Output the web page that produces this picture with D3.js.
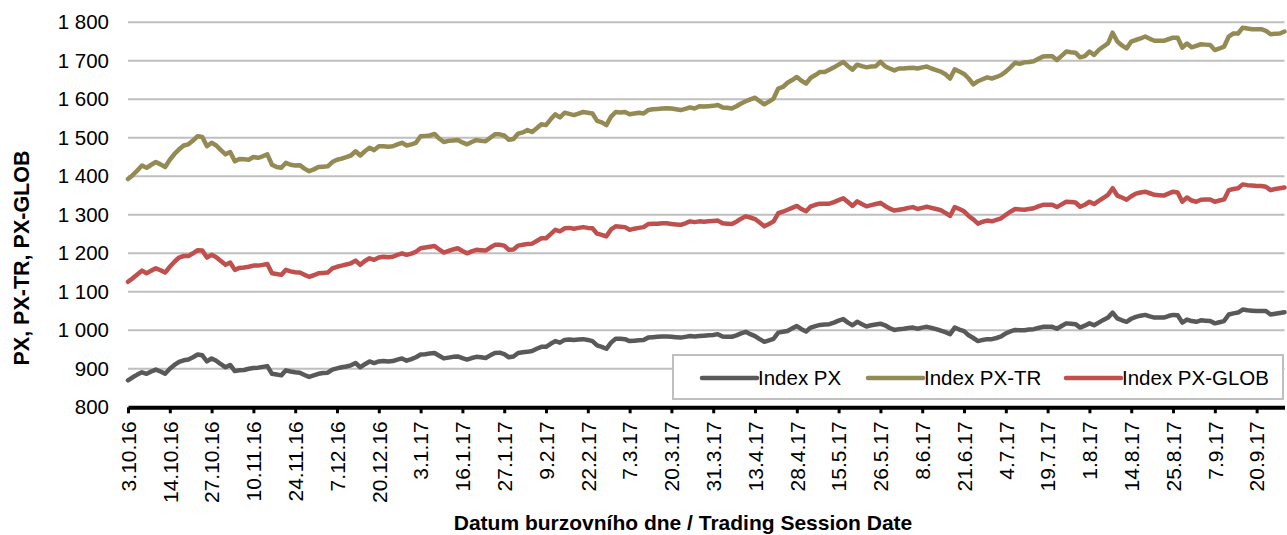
<!DOCTYPE html>
<html>
<head>
<meta charset="utf-8">
<script src="https://cdn.jsdelivr.net/npm/d3@7"></script>
<style>
  body { margin: 0; background: #fff; }
  svg { display: block; font-family: 'Liberation Sans', Arial, sans-serif; }
</style>
</head>
<body>
<svg id="chart" width="1287" height="535"></svg>
<script>
// daily closes, 3.10.2016 - 29.9.2017 (one value per trading session)
var pxValues = [
  870, 878, 885, 891, 887, 893, 898, 893, 887, 900, 910, 918, 922, 924, 930, 937, 935, 919, 927, 921,
  912, 904, 910, 894, 896, 897, 900, 902, 903, 905, 907, 887, 885, 883, 896, 893, 891, 890, 884, 879,
  883, 887, 889, 890, 898, 901, 904, 906, 909, 915, 904, 912, 919, 915, 919, 920, 919, 920, 924, 927,
  921, 925, 930, 937, 938, 940, 941, 934, 927, 929, 931, 932, 928, 924, 928, 931, 930, 928, 935, 941,
  942, 938, 930, 932, 941, 943, 944, 946, 952, 957, 957, 965, 972, 968, 975, 976, 975, 976, 977, 975,
  972, 961, 957, 952, 968, 978, 978, 977, 972, 973, 974, 975, 981, 982, 983, 984, 984, 983, 982, 981,
  983, 985, 984, 985, 986, 987, 988, 990, 984, 983, 983, 987, 992, 996, 990, 985, 977, 970, 974, 978,
  994, 996, 998, 1005, 1011, 1003, 997, 1007, 1011, 1014, 1015, 1016, 1020, 1025, 1029, 1020, 1013, 1022, 1016, 1010,
  1013, 1015, 1017, 1013, 1006, 1001, 1003, 1004, 1006, 1007, 1004, 1007, 1009, 1006, 1003, 999, 995, 990, 1007, 1002,
  998, 987, 980, 972, 975, 977, 977, 980, 984, 992, 997, 1001, 1000, 1000, 1002, 1003, 1006, 1009, 1009, 1009,
  1004, 1011, 1018, 1017, 1016, 1007, 1012, 1018, 1013, 1020, 1027, 1033, 1046, 1031, 1026, 1022, 1030, 1035, 1038, 1040,
  1036, 1033, 1033, 1033, 1037, 1040, 1039, 1020, 1028, 1024, 1022, 1026, 1025, 1024, 1018, 1021, 1024, 1041, 1044, 1046,
  1054, 1052, 1051, 1050, 1050, 1050, 1041, 1043, 1045, 1047
];

var trValues = [
  1393, 1403, 1415, 1428, 1422, 1430, 1437, 1431, 1424, 1443, 1458, 1470, 1480, 1483, 1493, 1504, 1502, 1478, 1487, 1480,
  1468, 1457, 1463, 1439, 1445, 1444, 1443, 1450, 1448, 1452, 1457, 1430, 1424, 1422, 1435, 1430, 1428, 1429, 1420, 1413,
  1418, 1424, 1425, 1426, 1437, 1443, 1446, 1450, 1454, 1465, 1454, 1465, 1474, 1468, 1478, 1478, 1477, 1478, 1483, 1487,
  1480, 1483, 1487, 1504, 1505, 1506, 1510, 1498, 1489, 1492, 1493, 1494, 1488, 1483, 1489, 1494, 1492, 1491, 1500, 1509,
  1509, 1506, 1495, 1497, 1511, 1514, 1520, 1515, 1525, 1535, 1533, 1548, 1561, 1553, 1565, 1562, 1559, 1563, 1567, 1565,
  1563, 1544, 1540, 1533, 1555, 1567, 1566, 1567, 1561, 1563, 1565, 1563, 1572, 1574, 1575, 1576, 1577, 1576, 1574, 1572,
  1575, 1579, 1576, 1582, 1581, 1582, 1583, 1585, 1579, 1578, 1576, 1582, 1589, 1595, 1600, 1604, 1595, 1587, 1594, 1602,
  1628, 1632, 1643, 1650, 1658, 1648, 1641, 1656, 1663, 1671, 1671, 1677, 1683, 1690, 1697, 1686, 1677, 1690, 1686, 1683,
  1685, 1686, 1697, 1686, 1680, 1675, 1680, 1680, 1681, 1682, 1680, 1683, 1685, 1680, 1676, 1672, 1665, 1654, 1678, 1672,
  1666, 1654, 1639, 1647, 1652, 1657, 1654, 1658, 1663, 1672, 1683, 1695, 1692, 1696, 1697, 1699, 1705, 1711, 1712, 1712,
  1702, 1713, 1724, 1722, 1721, 1709, 1712, 1724, 1715, 1728, 1737, 1745, 1773, 1750, 1740, 1732, 1750, 1754, 1758, 1763,
  1757, 1752, 1752, 1752, 1756, 1760, 1760, 1734, 1745, 1735, 1739, 1743, 1742, 1741, 1728, 1732, 1737, 1763, 1771, 1771,
  1786, 1784, 1782, 1782, 1782, 1778, 1769, 1770, 1771, 1776
];

var globValues = [
  1126, 1135, 1145, 1155, 1148, 1155, 1161, 1156, 1150, 1165, 1178, 1189, 1193, 1193, 1200, 1208, 1207, 1189, 1196, 1190,
  1180, 1170, 1176, 1157, 1162, 1163, 1165, 1168, 1168, 1170, 1172, 1148, 1146, 1144, 1157, 1153, 1151, 1150, 1144, 1139,
  1143, 1148, 1149, 1150, 1161, 1165, 1168, 1171, 1174, 1181, 1170, 1180, 1187, 1183, 1189, 1191, 1190, 1191, 1196, 1200,
  1196, 1199, 1204, 1213, 1215, 1217, 1219, 1210, 1202, 1206, 1210, 1213, 1206, 1200, 1205, 1209, 1208, 1207, 1215, 1222,
  1222, 1220, 1209, 1210, 1220, 1222, 1224, 1225, 1232, 1239, 1239, 1250, 1261, 1257, 1265, 1266, 1264, 1266, 1268, 1266,
  1265, 1251, 1248, 1244, 1262, 1270, 1269, 1268, 1261, 1264, 1266, 1268, 1276, 1277, 1277, 1278, 1278, 1276, 1275, 1274,
  1278, 1283, 1281, 1283, 1282, 1283, 1284, 1285, 1278, 1277, 1276, 1282, 1290, 1296, 1293, 1289, 1280, 1270, 1276, 1283,
  1304, 1308, 1313, 1318, 1323, 1315, 1309, 1322, 1326, 1329, 1329, 1329, 1333, 1338, 1343, 1333, 1323, 1335, 1328, 1322,
  1325, 1328, 1331, 1323, 1316, 1311, 1313, 1315, 1318, 1320, 1315, 1318, 1321, 1318, 1315, 1312, 1305, 1297, 1320, 1315,
  1309, 1297, 1288, 1277, 1282, 1285, 1283, 1287, 1291, 1300, 1308, 1315, 1314, 1313, 1315, 1317, 1322, 1326, 1326, 1326,
  1320, 1327, 1334, 1333, 1332, 1321, 1326, 1334, 1328, 1336, 1344, 1352, 1369, 1350, 1345, 1339, 1348, 1355, 1358, 1360,
  1356, 1352, 1351, 1350, 1355, 1360, 1358, 1334, 1345, 1337, 1334, 1339, 1340, 1340, 1334, 1337, 1340, 1364, 1367, 1369,
  1379, 1377, 1376, 1375, 1375, 1373, 1364, 1367, 1369, 1371
];

// every 9th session is labelled
var tickLabels = [
  '3.10.16', '14.10.16', '27.10.16', '10.11.16', '24.11.16', '7.12.16', '20.12.16',
  '3.1.17', '16.1.17', '27.1.17', '9.2.17', '22.2.17', '7.3.17', '20.3.17', '31.3.17',
  '13.4.17', '28.4.17', '15.5.17', '26.5.17', '8.6.17', '21.6.17', '4.7.17', '19.7.17',
  '1.8.17', '14.8.17', '25.8.17', '7.9.17', '20.9.17'
];
var tickStep = 9;

var seriesNames = ['Index PX', 'Index PX-TR', 'Index PX-GLOB'];
var seriesColors = ['#595959', '#948A54', '#C0504D'];
var yTicks = [800, 900, 1000, 1100, 1200, 1300, 1400, 1500, 1600, 1700, 1800];

// plot box (window.top is reserved, hence the names)
var plotLeft = 128, plotRight = 1284.5, plotTop = 22.3, plotBottom = 407.3;

window.onload = function() {
  var svg = d3.select('#chart');
  var series = [pxValues, trValues, globValues];
  var n = pxValues.length;

  var xScale = d3.scaleLinear().domain([0, n - 1]).range([plotLeft, plotRight]);
  var yScale = d3.scaleLinear().domain([800, 1800]).range([plotBottom, plotTop]);

  // gridlines
  svg.append('g')
    .selectAll('line')
    .data(yTicks.slice(1))
    .enter()
    .append('line')
    .attr('x1', plotLeft)
    .attr('x2', plotRight)
    .attr('y1', d => yScale(d))
    .attr('y2', d => yScale(d))
    .style('stroke', '#BFBFBF')
    .style('stroke-width', 2);

  // y labels, thousands separated by a space
  var yAxis = d3.axisLeft(yScale)
    .tickValues(yTicks)
    .tickSize(0)
    .tickPadding(19)
    .tickFormat(d => d3.format(',')(d).replace(',', ' '));
  var gy = svg.append('g').attr('transform', `translate(${plotLeft}, 0)`).call(yAxis);
  gy.select('.domain').remove();
  gy.selectAll('text').style('font-size', '20.5px').style('fill', '#000');

  // lines
  var line = d3.line()
    .x((d, i) => xScale(i))
    .y(d => yScale(d));

  svg.append('g')
    .selectAll('path')
    .data(series)
    .enter()
    .append('path')
    .attr('d', line)
    .style('fill', 'none')
    .style('stroke', (d, i) => seriesColors[i])
    .style('stroke-width', 4.5)
    .style('stroke-linejoin', 'round')
    .style('stroke-linecap', 'round');

  // x axis
  var xAxis = d3.axisBottom(xScale)
    .tickValues(d3.range(0, n, tickStep))
    .tickSize(6)
    .tickSizeOuter(0)
    .tickFormat(i => tickLabels[i / tickStep]);
  var gx = svg.append('g').attr('transform', `translate(0, ${plotBottom})`).call(xAxis);
  gx.select('.domain').style('stroke', '#000').style('stroke-width', 4);
  gx.selectAll('.tick line').style('stroke', '#000').style('stroke-width', 3);
  gx.selectAll('text')
    .style('font-size', '21px')
    .style('fill', '#000')
    .attr('transform', 'rotate(-90)')
    .attr('text-anchor', 'end')
    .attr('x', -14)
    .attr('y', 0)
    .attr('dy', '0.35em');

  // axis titles
  svg.append('text')
    .attr('transform', 'translate(29, 258) rotate(-90)')
    .attr('text-anchor', 'middle')
    .style('font-size', '21.5px')
    .style('font-weight', 'bold')
    .text('PX, PX-TR, PX-GLOB');

  svg.append('text')
    .attr('x', 683)
    .attr('y', 530)
    .attr('text-anchor', 'middle')
    .style('font-size', '21px')
    .style('font-weight', 'bold')
    .text('Datum burzovního dne / Trading Session Date');

  // legend
  var legend = svg.append('g');
  legend.append('rect')
    .attr('x', 673)
    .attr('y', 355)
    .attr('width', 610)
    .attr('height', 44)
    .style('fill', '#fff')
    .style('stroke', '#BFBFBF')
    .style('stroke-width', 2);

  var legendX = [702, 868, 1066];
  var item = legend.selectAll('.item')
    .data(seriesNames)
    .enter()
    .append('g')
    .attr('class', 'item')
    .attr('transform', (d, i) => `translate(${legendX[i]}, 378)`);
  item.append('line')
    .attr('x1', 0)
    .attr('x2', 55)
    .style('stroke', (d, i) => seriesColors[i])
    .style('stroke-width', 4.5)
    .style('stroke-linecap', 'round');
  item.append('text')
    .attr('x', 56)
    .attr('dy', '0.35em')
    .style('font-size', '20.5px')
    .text(d => d);
};
</script>
</body>
</html>
